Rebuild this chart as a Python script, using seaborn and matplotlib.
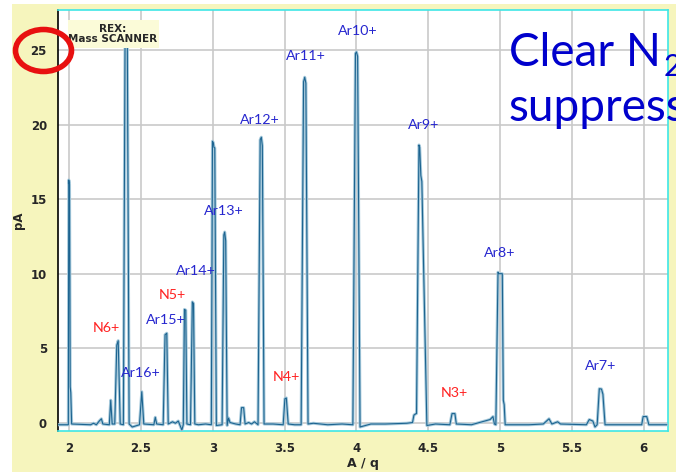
import matplotlib
matplotlib.use("Agg")
import matplotlib.pyplot as plt
from matplotlib.patches import Ellipse, Rectangle
import seaborn as sns
import pandas as pd

# spectrum trace (A/q, pA)
mz = [1.925, 1.995, 1.998, 2.003, 2.008, 2.012, 2.018,
      2.15, 2.17, 2.19, 2.21, 2.225, 2.235,
      2.28, 2.29, 2.30,
      2.318, 2.332, 2.342, 2.356,
      2.378, 2.39, 2.396, 2.405, 2.418,
      2.44, 2.49, 2.506, 2.52,
      2.59, 2.60, 2.61,
      2.655, 2.668, 2.68, 2.69,
      2.72, 2.74, 2.76, 2.785,
      2.795, 2.803, 2.812, 2.82,
      2.845, 2.858, 2.866, 2.875,
      2.9, 2.95, 2.99, 2.998, 3.004, 3.008, 3.014, 3.025,
      3.065, 3.077, 3.083, 3.09, 3.1, 3.11, 3.12, 3.16,
      3.19, 3.2, 3.215, 3.225,
      3.25, 3.27, 3.29,
      3.315, 3.33, 3.338, 3.345, 3.357,
      3.42, 3.49, 3.502, 3.512, 3.525,
      3.57, 3.615, 3.632, 3.64, 3.648, 3.663,
      3.7, 3.8, 3.9, 3.975, 3.993, 4.0, 4.008, 4.025,
      4.1, 4.2, 4.35, 4.39, 4.4, 4.415,
      4.418, 4.435, 4.44, 4.448, 4.455, 4.49,
      4.55, 4.65, 4.665, 4.685, 4.695,
      4.8, 4.93, 4.95, 4.96,
      4.97, 4.985, 4.99, 5.015, 5.022, 5.028, 5.035,
      5.2, 5.3, 5.34, 5.36, 5.4, 5.42,
      5.6, 5.62, 5.645, 5.66,
      5.675, 5.69, 5.705, 5.715, 5.73,
      5.85, 5.985, 5.995, 6.02, 6.035, 6.16]
current = [-0.15, -0.15, 16.3, 16.0, 2.4, 2.0, -0.1,
           -0.15, -0.05, -0.15, 0.1, 0.25, -0.1,
           -0.15, 1.5, -0.1,
           -0.1, 5.2, 5.5, -0.1,
           -0.15, 26.6, 26.7, 26.3, -0.1,
           -0.3, -0.15, 2.07, -0.1,
           -0.15, 0.35, -0.1,
           -0.15, 5.9, 6.0, -0.1,
           0.05, -0.05, 0.1, -0.5,
           -0.15, 7.6, 7.55, -0.1,
           -0.15, 8.1, 8.0, -0.1,
           -0.15, -0.1, -0.15, 18.9, 18.8, 18.5, 18.45, -0.2,
           -0.15, 12.6, 12.8, 12.2, -0.2, 0.3, 0.0, -0.1,
           -0.15, 1.0, 1.0, -0.1,
           0.0, -0.1, 0.05,
           -0.15, 19.0, 19.17, 18.6, -0.1,
           -0.1, -0.15, 1.6, 1.65, -0.1,
           -0.15, -0.15, 22.9, 23.2, 22.8, -0.1,
           -0.05, -0.15, -0.1, -0.15, 24.8, 24.9, 24.6, -0.3,
           -0.1, -0.1, -0.05, 0.0, 0.5, 0.6,
           0.6, 18.65, 18.5, 16.6, 16.2, -0.2,
           -0.1, -0.15, 0.6, 0.6, -0.1,
           -0.15, 0.2, 0.4, -0.1,
           -0.15, 10.1, 10.0, 10.0, 1.5, 1.2, -0.15,
           -0.15, -0.1, 0.25, -0.1, 0.05, -0.1,
           -0.15, 0.2, 0.1, -0.3,
           -0.15, 2.27, 2.25, 1.9, -0.15,
           -0.15, -0.15, 0.4, 0.4, -0.15, -0.15]

ar_labels = ["Ar16+", "Ar15+", "Ar14+", "Ar13+", "Ar12+", "Ar11+",
             "Ar10+", "Ar9+", "Ar8+", "Ar7+"]
ar_x = [2.5, 2.67, 2.88, 3.075, 3.33, 3.65, 4.01, 4.47, 5.0, 5.7]
ar_y = [3.3, 6.9, 10.2, 14.2, 20.3, 24.6, 26.3, 20.0, 11.4, 3.8]
n_labels = ["N6+", "N5+", "N4+", "N3+"]
n_x = [2.26, 2.72, 3.51, 4.68]
n_y = [6.35, 8.6, 3.05, 2.0]

df = pd.DataFrame({"mz": mz, "current": current})

sns.set_style("white")
plt.rcParams["font.family"] = ["DejaVu Sans"]

fig = plt.figure(figsize=(6.76, 4.72), dpi=100, facecolor="white")
fig.patches.append(Rectangle((12 / 676, 0), 1, 1 - 4 / 472, transform=fig.transFigure,
                             facecolor="#f6f5bd", edgecolor="none", zorder=-10))
ax = fig.add_axes([58 / 676, 41 / 472, 610 / 676, 421 / 472])
ax.set_facecolor("white")

sns.lineplot(data=df, x="mz", y="current", ax=ax, sort=False, estimator=None,
             color="#a7cadc", lw=2.2, zorder=3)
sns.lineplot(data=df, x="mz", y="current", ax=ax, sort=False, estimator=None,
             color="#1d6490", lw=0.8, zorder=4)

ax.set_xlim(1.923, 6.168)
ax.set_ylim(-0.57, 27.72)
ax.set_xticks([2, 2.5, 3, 3.5, 4, 4.5, 5, 5.5, 6])
ax.set_xticklabels(["2", "2.5", "3", "3.5", "4", "4.5", "5", "5.5", "6"])
ax.set_yticks([0, 5, 10, 15, 20, 25])
ax.grid(True, color="#c9c9c9", lw=1.2)
ax.set_axisbelow(True)
ax.tick_params(axis="both", direction="out", length=5, width=1, color="black",
               labelsize=8.5, pad=3)
for lab in ax.get_xticklabels() + ax.get_yticklabels():
    lab.set_fontweight("bold")
for side in ["top", "right", "bottom"]:
    ax.spines[side].set_color("#3ee6e6")
    ax.spines[side].set_linewidth(1.2)
ax.spines["left"].set_color("black")
ax.spines["left"].set_linewidth(1.2)
ax.set_xlabel("A / q", fontweight="bold", fontsize=9, labelpad=1)
ax.set_ylabel("pA", fontweight="bold", fontsize=8.5, labelpad=4)

for lab, x, y in zip(ar_labels, ar_x, ar_y):
    ax.text(x, y, lab, color="#2626cf", fontsize=10.3, family="Lato",
            ha="center", va="center", zorder=5)
for lab, x, y in zip(n_labels, n_x, n_y):
    ax.text(x, y, lab, color="#ff2222", fontsize=10.3, family="Lato",
            ha="center", va="center", zorder=5)

# instrument tag box
fig.patches.append(Rectangle((68 / 676, 1 - 48 / 472), 91 / 676, 28 / 472,
                             transform=fig.transFigure, facecolor="#fbfbd8",
                             edgecolor="none", zorder=2))
fig.text(113 / 676, 1 - 34 / 472, "REX:\nMass SCANNER", ha="center", va="center",
         fontsize=7.5, fontweight="bold", linespacing=1.0, zorder=6)

# red circle round the 25 tick
fig.patches.append(Ellipse((43.5 / 676, 1 - 50.5 / 472), 56 / 676, 42 / 472,
                           transform=fig.transFigure, fill=False,
                           edgecolor="#e81010", lw=4, zorder=7))

# slide text, cut off by the right edge as in the original slide
fig.text(509 / 676, 1 - 66 / 472, "Clear N", color="#0000cc", fontsize=33,
         family="Lato", ha="left", va="baseline", zorder=8)
fig.text(664 / 676, 1 - 76 / 472, "2", color="#0000cc", fontsize=22,
         family="Lato", ha="left", va="baseline", zorder=8)
fig.text(509 / 676, 1 - 121 / 472, "suppression", color="#0000cc", fontsize=33,
         family="Lato", ha="left", va="baseline", zorder=8)

fig.savefig("out.png", dpi=100, facecolor="white")
